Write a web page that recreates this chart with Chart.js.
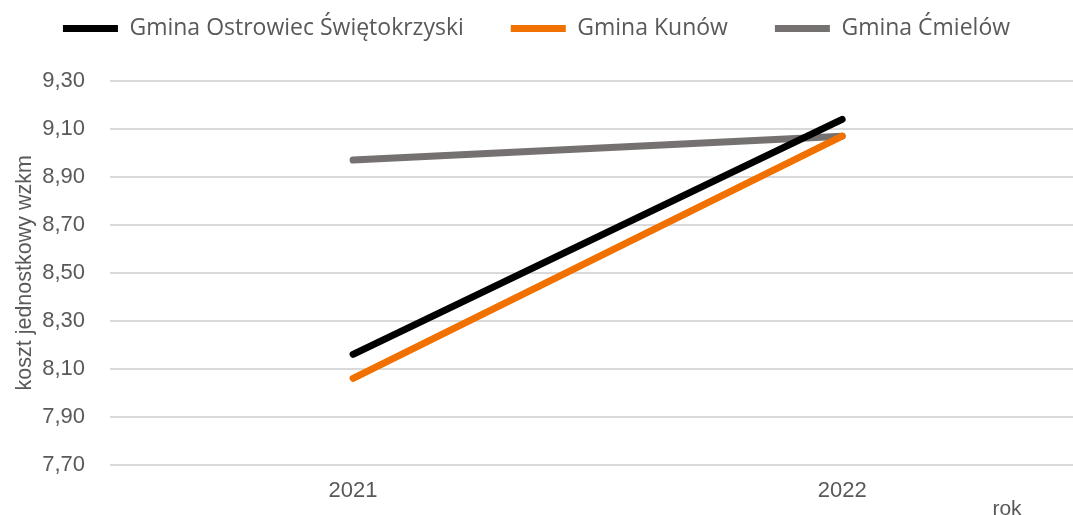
<!DOCTYPE html>
<html>
<head>
<meta charset="utf-8">
<script src="https://cdn.jsdelivr.net/npm/chart.js@4.4.1/dist/chart.umd.min.js"></script>
<style>
  html, body { margin: 0; padding: 0; background: #fff; }
  #wrap { width: 1073px; height: 515px; }
</style>
</head>
<body>
<div id="wrap"><canvas id="chart"></canvas></div>
<script>
// data
const years = [2021, 2022];
const ostrowiec = [8.16, 9.14];
const kunow = [8.06, 9.07];
const cmielow = [8.97, 9.07];
const seriesNames = ['Gmina Ostrowiec Świętokrzyski', 'Gmina Kunów', 'Gmina Ćmielów'];
const seriesColors = ['#000000', '#F07000', '#767171'];
const yMin = 7.7, yMax = 9.3, yStep = 0.2;

const axisFont = "'Liberation Sans', Arial, sans-serif";
const textGray = '#595959';

function toPoints(vals) {
  return years.map((y, i) => ({ x: y, y: vals[i] }));
}

// draws the lone "rok" label under the right end of the x axis
const rokLabel = {
  id: 'rokLabel',
  afterDraw(chart) {
    const ctx = chart.ctx;
    const a = chart.chartArea;
    ctx.save();
    ctx.font = '21px ' + axisFont;
    ctx.fillStyle = textGray;
    ctx.textAlign = 'center';
    ctx.textBaseline = 'middle';
    ctx.fillText('rok', a.right - 66, a.bottom + 45);
    ctx.restore();
  }
};

new Chart(document.getElementById('chart'), {
  type: 'line',
  data: {
    datasets: [ostrowiec, kunow, cmielow].map((vals, i) => ({
      label: seriesNames[i],
      data: toPoints(vals),
      borderColor: seriesColors[i],
      backgroundColor: seriesColors[i],
      borderWidth: 7,
      borderCapStyle: 'round',
      pointRadius: 0,
      pointHoverRadius: 0,
      pointStyle: 'line',
      tension: 0
    }))
  },
  options: {
    responsive: true,
    maintainAspectRatio: false,
    animation: false,
    layout: { padding: { top: -30, right: 0, bottom: 6, left: 0 } },
    plugins: {
      legend: {
        position: 'top',
        labels: {
          usePointStyle: true,
          pointStyleWidth: 55,
          padding: 47,
          color: textGray,
          font: { family: "'Open Sans', sans-serif", size: 23 }
        }
      },
      tooltip: { enabled: false }
    },
    scales: {
      x: {
        type: 'linear',
        min: 2020.503,
        max: 2022.472,
        afterBuildTicks: scale => { scale.ticks = years.map(v => ({ value: v })); },
        grid: { display: false },
        border: { display: false },
        ticks: {
          color: textGray,
          padding: 5,
          maxRotation: 0,
          font: { family: axisFont, size: 22 },
          callback: v => String(v)
        }
      },
      // empty spacer axis: only keeps the gap between legend and plot
      gap: {
        type: 'linear',
        position: 'top',
        afterFit: scale => { scale.height = 31; },
        grid: { display: false },
        border: { display: false },
        ticks: { display: false }
      },
      y: {
        min: yMin,
        max: yMax,
        afterFit: scale => { scale.width = 110; },
        border: { display: false },
        grid: { color: '#D9D9D9', lineWidth: 2, drawTicks: false },
        ticks: {
          stepSize: yStep,
          padding: 25,
          color: textGray,
          font: { family: axisFont, size: 22 },
          callback: v => v.toFixed(2).replace('.', ',')
        },
        title: {
          display: true,
          text: 'koszt jednostkowy wzkm',
          color: textGray,
          padding: { top: 12, bottom: 0 },
          font: { family: axisFont, size: 21.5 }
        }
      }
    }
  },
  plugins: [rokLabel]
});
</script>
</body>
</html>
